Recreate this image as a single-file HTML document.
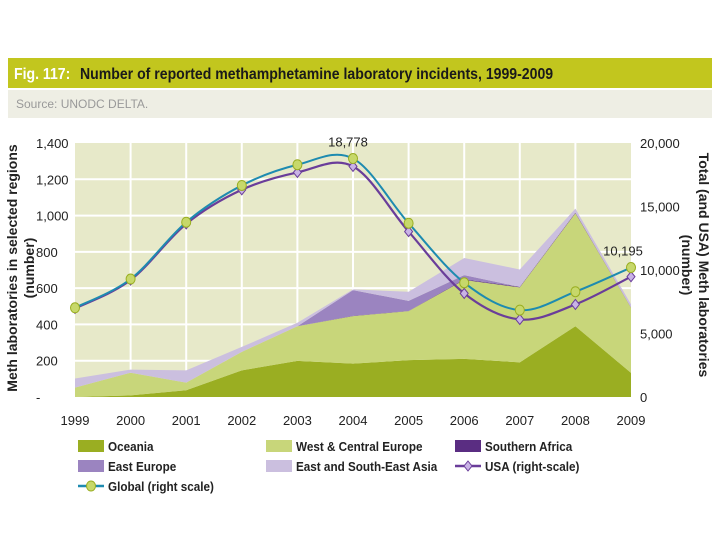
<!DOCTYPE html>
<html><head><meta charset="utf-8"><style>
body{margin:0;background:#fff;width:720px;height:540px;overflow:hidden;font-family:"Liberation Sans",sans-serif;}
</style></head><body>
<svg width="720" height="540" xmlns="http://www.w3.org/2000/svg" id="chart">
<rect x="8" y="58" width="704" height="30" fill="#c2c61e"/>
<text x="14" y="79" font-size="16" font-weight="bold" fill="#fff" transform="scale(0.88,1)" transform-origin="14 79">Fig. 117:</text>
<text x="80" y="79" font-size="16" font-weight="bold" fill="#1a1a1a" transform="scale(0.88,1)" transform-origin="80 79">Number of reported methamphetamine laboratory incidents, 1999-2009</text>
<rect x="8" y="90" width="704" height="28" fill="#eeeee4"/>
<text x="16" y="108" font-size="12" fill="#999">Source:  UNODC DELTA.</text>
<rect x="75" y="143" width="556" height="254" fill="#e7e9c9"/>
<g id="grid"></g>
<g id="areas"></g>
<g id="lines"></g>
<g id="axes" font-size="13" fill="#222"></g>
<text transform="translate(17,268) rotate(-90)" text-anchor="middle" font-size="14" font-weight="bold" fill="#222"><tspan x="0" y="0">Meth laboratories in selected regions</tspan><tspan x="0" y="17">(number)</tspan></text>
<text transform="translate(699,265) rotate(90)" text-anchor="middle" font-size="14" font-weight="bold" fill="#222"><tspan x="0" y="0">Total (and USA) Meth laboratories</tspan><tspan x="0" y="17">(number)</tspan></text>
<g id="legend" font-size="13" font-weight="bold" fill="#222"></g>
</svg>
<script>
const years=['1999','2000','2001','2002','2003','2004','2005','2006','2007','2008','2009'];
const oceania=[0,9,37,147,199,184,203,210,191,390,133];
const westCentralEurope=[52,125,42,102,191,262,270,435,413,623,359];
const southernAfrica=[0,0,0,0,0,1,1,3,3,3,1];
const eastEurope=[0,0,0,0,0,142,56,24,0,0,0];
const eastSEAsia=[50,17,68,27,19,4,50,94,96,22,18];
const globalTotal=[7026,9290,13763,16658,18289,18778,13684,9000,6842,8289,10195];
const usa=[6974,9210,13630,16316,17684,18158,13026,8158,6105,7289,9474];
const leftTicks=[0,200,400,600,800,1000,1200,1400];
const leftTickLabels=['-','200','400','600','800','1,000','1,200','1,400'];
const rightTicks=[0,5000,10000,15000,20000];
const rightTickLabels=['0','5,000','10,000','15,000','20,000'];

const NS='http://www.w3.org/2000/svg';
const X0=75,X1=631,Y0=397,Y1=143;
const xs=i=>X0+(X1-X0)*i/(years.length-1);
const yl=v=>Y0-(Y0-Y1)*v/1400;
const yr=v=>Y0-(Y0-Y1)*v/20000;
function mk(tag,attrs,parent){const e=document.createElementNS(NS,tag);for(const k in attrs)e.setAttribute(k,attrs[k]);parent.appendChild(e);return e;}
const grid=document.getElementById('grid'),areas=document.getElementById('areas'),lines=document.getElementById('lines'),axes=document.getElementById('axes'),legend=document.getElementById('legend');
leftTicks.forEach((t,i)=>{if(t>0&&t<1400){const l=mk('line',{x1:X0,x2:X1,y1:yl(t),y2:yl(t),stroke:'#fff','stroke-width':2},grid);

}
const tx=mk('text',{x:36,y:yl(t)+5},axes);tx.textContent=leftTickLabels[i];

});
years.forEach((y,i)=>{if(i>0&&i<years.length-1){const l=mk('line',{x1:xs(i),x2:xs(i),y1:Y1,y2:Y0,stroke:'#fff','stroke-width':2},grid);

}
const tx=mk('text',{x:xs(i),y:425,'text-anchor':'middle'},axes);tx.textContent=y;

});
rightTicks.forEach((t,i)=>{const tx=mk('text',{x:640,y:yr(t)+5},axes);tx.textContent=rightTickLabels[i];

});
const series=[['oceania',oceania,'#9aae22'],['west-central-europe',westCentralEurope,'#c8d67a'],['southern-africa',southernAfrica,'#5a2d82'],['east-europe',eastEurope,'#9b84c0'],['east-se-asia',eastSEAsia,'#cbbfdf']];
let base=years.map(()=>0);
series.forEach(([n,d,c])=>{const top=base.map((b,i)=>b+d[i]);
let p=top.map((v,i)=>(i?'L':'M')+xs(i)+','+yl(v)).join(' ');
for(let i=years.length-1;i>=0;i--)p+=' L'+xs(i)+','+yl(base[i]);
const a=mk('path',{d:p+' Z',fill:c},areas);


if(n==='southern-africa'){const ln=mk('path',{d:top.map((v,i)=>(i?'L':'M')+xs(i)+','+yl(v)).slice(4).join(' '),fill:'none',stroke:c,'stroke-width':1.5},areas);

}
base=top;});
function smooth(pts){let d='M'+pts[0][0]+','+pts[0][1];for(let i=0;i<pts.length-1;i++){const p0=pts[i-1]||pts[i],p1=pts[i],p2=pts[i+1],p3=pts[i+2]||p2;
d+=' C'+(p1[0]+(p2[0]-p0[0])/6)+','+(p1[1]+(p2[1]-p0[1])/6)+' '+(p2[0]-(p3[0]-p1[0])/6)+','+(p2[1]-(p3[1]-p1[1])/6)+' '+p2[0]+','+p2[1];}return d;}
const up=usa.map((v,i)=>[xs(i),yr(v)]);
const ul=mk('path',{d:smooth(up),fill:'none',stroke:'#6a3d9a','stroke-width':2.2},lines);


up.forEach(p=>{const m=mk('path',{d:`M${p[0]},${p[1]-5}L${p[0]+4},${p[1]}L${p[0]},${p[1]+5}L${p[0]-4},${p[1]}Z`,fill:'#c9b3e6',stroke:'#6a3d9a','stroke-width':1},lines);

});
const gp=globalTotal.map((v,i)=>[xs(i),yr(v)]);
const gl=mk('path',{d:smooth(gp),fill:'none',stroke:'#1e8bb0','stroke-width':2},lines);


gp.forEach(p=>{const m=mk('ellipse',{cx:p[0],cy:p[1],rx:4.5,ry:5,fill:'#c7d86a',stroke:'#9aae22','stroke-width':1},lines);

});
const pk=mk('text',{x:xs(5)-5,y:yr(globalTotal[5])-12,'text-anchor':'middle','font-size':13,fill:'#222'},lines);pk.textContent='18,778';


const en=mk('text',{x:xs(10)-8,y:yr(globalTotal[10])-12,'text-anchor':'middle','font-size':13,fill:'#222'},lines);en.textContent='10,195';


const items=[[78,446,'#9aae22','Oceania','sw'],[266,446,'#c8d67a','West & Central Europe','sw'],[455,446,'#5a2d82','Southern Africa','sw'],[78,466,'#9b84c0','East Europe','sw'],[266,466,'#cbbfdf','East and South-East Asia','sw'],[455,466,'#6a3d9a','USA (right-scale)','usa'],[78,486,'#1e8bb0','Global (right scale)','glob']];
items.forEach(([x,y,c,t,k])=>{const g=mk('g',{},legend);


if(k==='sw')mk('rect',{x:x,y:y-6,width:26,height:12,fill:c},g);
else{mk('line',{x1:x,x2:x+26,y1:y,y2:y,stroke:c,'stroke-width':2.5},g);
if(k==='usa')mk('path',{d:`M${x+13},${y-5}L${x+17},${y}L${x+13},${y+5}L${x+9},${y}Z`,fill:'#c9b3e6',stroke:c},g);
else mk('ellipse',{cx:x+13,cy:y,rx:4.5,ry:5,fill:'#c7d86a',stroke:'#9aae22'},g);}
const tx=mk('text',{x:x+30,y:y+5,transform:`scale(0.9,1)`,'transform-origin':`${x+30} ${y}`},g);tx.textContent=t;});
</script>
</body></html>
